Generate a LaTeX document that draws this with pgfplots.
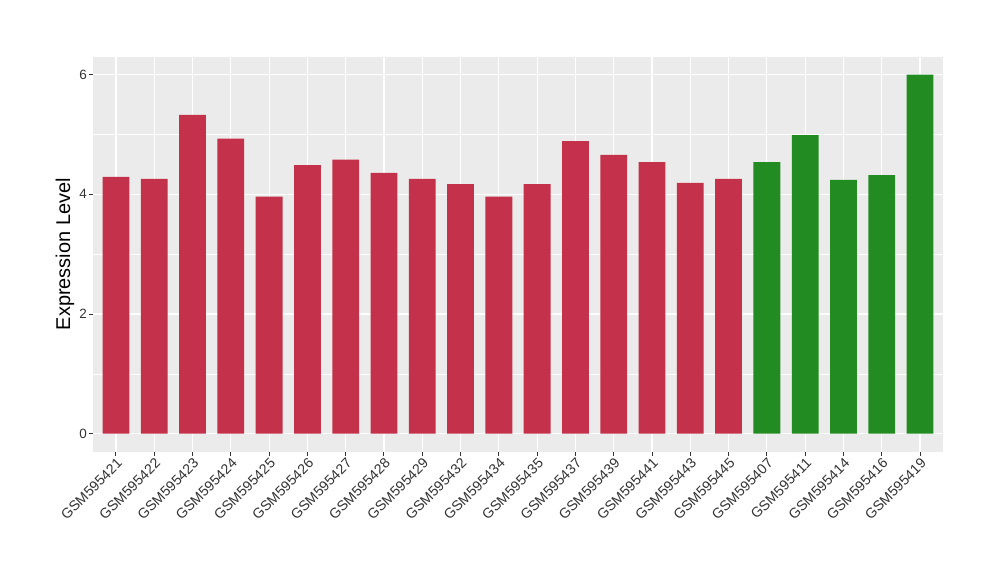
\documentclass[border=0pt]{standalone}
\usepackage{pgfplots}
\pgfplotsset{compat=1.18}
\usepackage{fontspec}
\setmainfont{Liberation Sans}
\definecolor{bg}{HTML}{EBEBEB}
\definecolor{redbar}{HTML}{C3314A}
\definecolor{greenbar}{HTML}{228B22}
\definecolor{txt}{HTML}{333333}
\begin{document}
\begin{tikzpicture}
\useasboundingbox (0,0) rectangle (1000bp,580bp);
\begin{axis}[
  at={(93bp,128.3bp)}, anchor=south west,
  width=850bp, height=395bp, scale only axis,
  xmin=-0.6, xmax=21.6, ymin=-0.3, ymax=6.3,
  axis background/.style={fill=bg},
  axis line style={draw=none},
  xtick={0,...,21},
  xticklabels={GSM595421,GSM595422,GSM595423,GSM595424,GSM595425,GSM595426,GSM595427,GSM595428,GSM595429,GSM595432,GSM595434,GSM595435,GSM595437,GSM595439,GSM595441,GSM595443,GSM595445,GSM595407,GSM595411,GSM595414,GSM595416,GSM595419},
  ytick={0,2,4,6},
  minor ytick={1,3,5},
  grid=both,
  major grid style={white, line width=1.1bp},
  minor grid style={white, line width=0.55bp},
  tick pos=left, tick align=outside,
  major tick length=4bp, minor tick length=0pt,
  tick style={color=txt, line width=1bp},
  xticklabel style={font=\fontsize{14.2}{16}\selectfont, text=txt, rotate=45, anchor=north east, inner sep=1bp},
  yticklabel style={font=\fontsize{13.5}{15}\selectfont, text=txt, inner sep=2bp},
  ylabel={Expression Level},
  ylabel style={font=\fontsize{20}{22}\selectfont, at={(axis description cs:-0.0329,0.5)}, anchor=center},
  /pgf/number format/assume math mode=true,
  ybar, bar width=0.7,
]
\addplot[fill=redbar, draw=none, bar shift=0pt] coordinates {
(0,4.29) (1,4.26) (2,5.33) (3,4.93) (4,3.96) (5,4.49) (6,4.58) (7,4.36) (8,4.26) (9,4.17) (10,3.96) (11,4.17) (12,4.89) (13,4.66) (14,4.54) (15,4.19) (16,4.26)};
\addplot[fill=greenbar, draw=none, bar shift=0pt] coordinates {
(17,4.54) (18,4.99) (19,4.24) (20,4.32) (21,6.00)};
\end{axis}
\end{tikzpicture}
\end{document}
